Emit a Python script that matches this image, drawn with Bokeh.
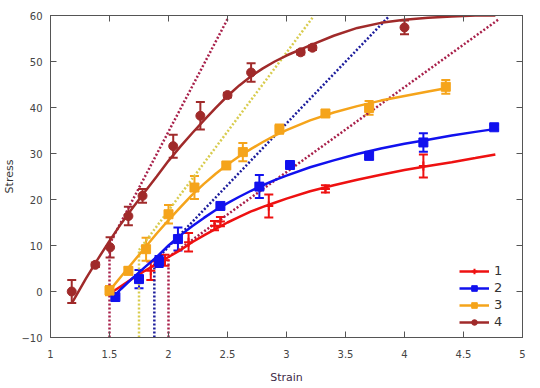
from bokeh.plotting import figure
from bokeh.models import (ColumnDataSource, Whisker, TeeHead, LinearAxis, SingleIntervalTicker,
                          Legend, LegendItem, Range1d)
from bokeh.embed import file_html
from bokeh.resources import INLINE

# ---- data: measured points (x, y, error) ----
x1 = [1.85, 1.97, 2.17, 2.39, 2.44, 2.85, 3.33, 4.16]
y1 = [4.5, 6.8, 10.7, 14.3, 15.2, 18.6, 22.3, 27.3]
e1 = [2.0, 1.2, 2.0, 1.0, 1.0, 2.5, 0.8, 2.5]

x2 = [1.55, 1.75, 1.92, 2.08, 2.44, 2.77, 3.03, 3.70, 4.16, 4.76]
y2 = [-1.2, 2.7, 6.5, 11.4, 18.6, 22.8, 27.5, 29.5, 32.4, 35.7]
e2 = [0.3, 2.0, 1.2, 2.5, 0.5, 2.5, 0.5, 0.8, 2.0, 0.5]

x3 = [1.50, 1.66, 1.81, 2.00, 2.22, 2.49, 2.63, 2.94, 3.33, 3.70, 4.35]
y3 = [0.2, 4.5, 9.2, 16.8, 22.6, 27.4, 30.3, 35.3, 38.7, 39.9, 44.5]
e3 = [1.0, 0.8, 2.5, 2.0, 2.5, 0.5, 2.0, 1.0, 0.5, 1.5, 1.5]

x4 = [1.18, 1.38, 1.505, 1.66, 1.78, 2.04, 2.27, 2.50, 2.70, 3.12, 3.22, 4.00]
y4 = [0.0, 5.8, 9.6, 16.4, 20.8, 31.6, 38.2, 42.7, 47.6, 52.0, 53.0, 57.4]
e4 = [2.5, 0.5, 2.2, 2.0, 1.5, 2.5, 3.0, 0.5, 2.0, 0.5, 0.5, 1.5]

# ---- fitted curves ----
x1f = [1.53, 1.6, 1.7, 1.8, 1.9, 2.0, 2.1, 2.2, 2.3, 2.4, 2.5, 2.6, 2.7, 2.8, 2.9, 3.0,
       3.2, 3.4, 3.6, 3.8, 4.0, 4.2, 4.4, 4.6, 4.77]
y1f = [0.0, 1.2, 2.9, 4.5, 6.0, 7.5, 9.0, 10.7, 12.2, 13.6, 15.0, 16.2, 17.4, 18.4, 19.3, 20.2,
       21.8, 23.1, 24.3, 25.4, 26.4, 27.3, 28.1, 29.0, 29.8]

x2f = [1.53, 1.6, 1.7, 1.8, 1.9, 2.0, 2.1, 2.2, 2.3, 2.4, 2.5, 2.6, 2.7, 2.8, 2.9, 3.0,
       3.2, 3.4, 3.6, 3.8, 4.0, 4.2, 4.4, 4.6, 4.76]
y2f = [-1.2, 0.6, 3.0, 5.3, 7.5, 10.0, 12.2, 14.2, 16.0, 17.7, 19.2, 20.6, 21.9, 23.1, 24.2, 25.2,
       27.0, 28.5, 29.9, 31.1, 32.1, 33.0, 33.9, 34.7, 35.3]

x3f = [1.5, 1.6, 1.7, 1.8, 1.9, 2.0, 2.1, 2.2, 2.3, 2.4, 2.5, 2.6, 2.7, 2.8, 2.9, 3.0,
       3.2, 3.4, 3.6, 3.8, 4.0, 4.2, 4.35]
y3f = [0.2, 3.3, 6.4, 9.5, 12.6, 15.5, 18.3, 21.0, 23.4, 25.6, 27.6, 29.4, 31.0, 32.5, 33.9, 35.1,
       37.2, 38.9, 40.3, 41.5, 42.5, 43.5, 44.2]

x4f = [1.18, 1.3, 1.4, 1.5, 1.6, 1.7, 1.8, 1.9, 2.0, 2.1, 2.2, 2.3, 2.4, 2.5, 2.6, 2.7, 2.8,
       2.9, 3.0, 3.2, 3.4, 3.6, 3.8, 4.0, 4.2, 4.4, 4.6, 4.77]
y4f = [-2.6, 2.8, 7.0, 11.0, 14.8, 18.3, 21.7, 25.0, 28.4, 31.5, 34.4, 37.2, 39.9, 42.5, 44.8,
       46.8, 48.5, 50.0, 51.3, 53.5, 55.6, 57.3, 58.4, 59.1, 59.5, 59.8, 60.0, 60.0]

# ---- yield construction: vertical drop and tangent line ----
yield_x = [2.00, 1.88, 1.75, 1.50]
yield_y = [7.5, 6.5, 9.0, 10.3]
tan_end_x = [4.80, 3.86, 3.22, 2.508]
tan_end_y = [59.2, 59.6, 59.5, 59.6]
y_floor = -10

labels = ["1", "2", "3", "4"]
colors = ["#ee1111", "#1111ee", "#f5a41b", "#a02a2a"]
dot_colors = ["#a8204a", "#1c1c9c", "#d8cc4e", "#a8204a"]
markers = ["cross", "square", "square", "circle"]

xticks_interval = 0.5
yticks_interval = 10

p = figure(width=540, height=388, output_backend="svg", toolbar_location=None,
           x_range=Range1d(1, 5), y_range=Range1d(-10, 60),
           min_border_left=47, min_border_right=18, min_border_top=15, min_border_bottom=51)
p.xgrid.visible = False
p.ygrid.visible = False
p.outline_line_color = "#555555"
p.outline_line_width = 1
p.background_fill_color = "white"

series = [(x1, y1, e1, x1f, y1f), (x2, y2, e2, x2f, y2f), (x3, y3, e3, x3f, y3f),
          (x4, y4, e4, x4f, y4f)]

for i in range(len(series)):
    # dotted construction lines
    p.segment(x0=[yield_x[i]], y0=[y_floor], x1=[yield_x[i]], y1=[yield_y[i]],
              line_color=dot_colors[i], line_width=2.5, line_dash="2 2")
    p.segment(x0=[yield_x[i]], y0=[yield_y[i]], x1=[tan_end_x[i]], y1=[tan_end_y[i]],
              line_color=dot_colors[i], line_width=2.5, line_dash="2 2")

items = []
for i, (xs, ys, es, xf, yf) in enumerate(series):
    c = colors[i]
    r_line = p.line(xf, yf, line_color=c, line_width=2.5)
    src = ColumnDataSource(dict(x=xs, y=ys,
                                upper=[a + b for a, b in zip(ys, es)],
                                lower=[a - b for a, b in zip(ys, es)]))
    w = Whisker(source=src, base="x", upper="upper", lower="lower", dimension="height",
                line_color=c, line_width=2,
                upper_head=TeeHead(size=9, line_color=c, line_width=2),
                lower_head=TeeHead(size=9, line_color=c, line_width=2))
    p.add_layout(w)
    if markers[i] == "cross":
        r_m = p.scatter("x", "y", source=src, marker="cross", size=9, line_color=c, line_width=2)
    else:
        r_m = p.scatter("x", "y", source=src, marker=markers[i], size=9,
                        fill_color=c, line_color=c)
    items.append(LegendItem(label=labels[i], renderers=[r_line, r_m]))

legend = Legend(items=items, location="bottom_right", background_fill_alpha=0,
                border_line_alpha=0, label_text_font="DejaVu Sans", label_text_font_size="13px",
                label_text_color="#333333", glyph_width=30, glyph_height=14, label_height=14,
                spacing=2, padding=2, margin=6, label_standoff=5)
p.add_layout(legend, "center")

font = "DejaVu Sans"
for ax in [p.xaxis[0], p.yaxis[0]]:
    ax.major_label_text_font = font
    ax.major_label_text_font_size = "10px"
    ax.major_label_text_color = "#444444"
    ax.axis_label_text_font = font
    ax.axis_label_text_font_size = "11px"
    ax.axis_label_text_font_style = "normal"
    ax.major_tick_in = 6
    ax.major_tick_out = 0
    ax.minor_tick_line_color = None
    ax.axis_line_color = "#555555"
    ax.major_tick_line_color = "#555555"

p.xaxis[0].ticker = SingleIntervalTicker(interval=xticks_interval)
p.yaxis[0].ticker = SingleIntervalTicker(interval=yticks_interval)
p.xaxis[0].axis_label = "Strain"
p.xaxis[0].axis_label_text_color = "#402a48"
p.xaxis[0].major_label_standoff = 8
p.xaxis[0].axis_label_standoff = 10
p.yaxis[0].axis_label = "Stress"
p.yaxis[0].axis_label_text_color = "#333333"
p.yaxis[0].major_label_standoff = 4
p.yaxis[0].axis_label_standoff = 2

top = LinearAxis(ticker=SingleIntervalTicker(interval=xticks_interval))
right = LinearAxis(ticker=SingleIntervalTicker(interval=yticks_interval))
for ax in (top, right):
    ax.major_tick_in = 6
    ax.major_tick_out = 0
    ax.minor_tick_line_color = None
    ax.axis_line_color = "#555555"
    ax.major_tick_line_color = "#555555"
    ax.major_label_text_font_size = "1px"
    ax.major_label_text_alpha = 0
    ax.major_label_standoff = 0
p.add_layout(top, "above")
p.add_layout(right, "right")

open("out.html", "w").write(file_html(p, INLINE))
